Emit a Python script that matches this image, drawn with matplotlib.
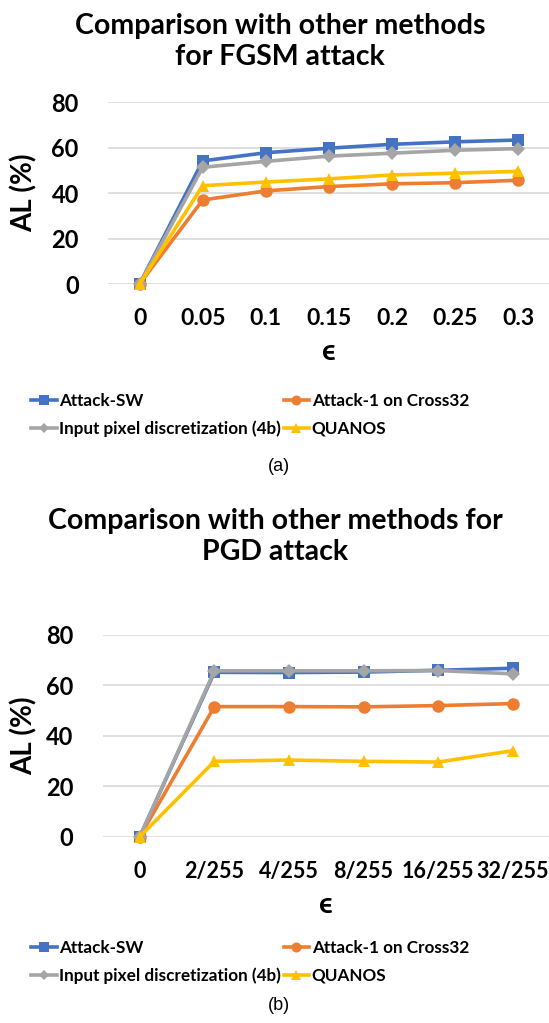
import matplotlib
matplotlib.use("Agg")
import matplotlib.pyplot as plt

# ---------------- data ----------------
series_names = ["Attack-SW", "Attack-1 on Cross32",
                "Input pixel discretization (4b)", "QUANOS"]

fgsm_eps = ["0", "0.05", "0.1", "0.15", "0.2", "0.25", "0.3"]
fgsm_attack_sw = [0, 54.2, 57.8, 59.8, 61.5, 62.6, 63.4]
fgsm_attack1 = [0, 37.0, 41.0, 42.9, 44.1, 44.6, 45.7]
fgsm_input_pixel = [0, 51.4, 54.0, 56.3, 57.6, 58.9, 59.6]
fgsm_quanos = [0, 43.3, 44.9, 46.3, 48.0, 48.8, 49.6]

pgd_eps = ["0", "2/255", "4/255", "8/255", "16/255", "32/255"]
pgd_attack_sw = [0, 65.2, 65.1, 65.3, 66.0, 66.8]
pgd_attack1 = [0, 51.6, 51.6, 51.5, 52.0, 52.8]
pgd_input_pixel = [0, 65.8, 65.8, 65.8, 65.9, 64.6]
pgd_quanos = [0, 29.9, 30.4, 29.9, 29.6, 34.1]

y_ticks = [0, 20, 40, 60, 80]

# ---------------- style ----------------
FONT = ["Lato", "DejaVu Sans"]
colors = ["#4472C4", "#ED7D31", "#A5A5A5", "#FFC000"]
markers = ["s", "o", "D", "^"]
msizes = [8.5, 9, 7, 9]
W, H = 549, 1023

fig = plt.figure(figsize=(W / 100, H / 100), dpi=100)
fig.patch.set_facecolor("white")


def px_box(left, top, right, bottom):
    return [left / W, 1 - bottom / H, (right - left) / W, (bottom - top) / H]


def draw_panel(box, cats, data, ylab_x, xlab_y, xsize):
    ax = fig.add_axes(box)
    x = list(range(len(cats)))
    handles = []
    for vals, c, m, ms, name in zip(data, colors, markers, msizes, series_names):
        h, = ax.plot(x, vals, color=c, marker=m, markersize=ms, lw=2.6,
                     markeredgewidth=0, clip_on=False, label=name, zorder=3)
        handles.append(h)
    ax.set_xlim(-0.5, len(cats) - 0.5)
    ax.set_ylim(0, 80)
    ax.set_yticks(y_ticks)
    ax.set_xticks(x)
    ax.set_xticklabels(cats)
    ax.grid(axis="y", color="#D9D9D9", lw=1.2, zorder=0)
    ax.set_axisbelow(True)
    for s in ax.spines.values():
        s.set_visible(False)
    ax.tick_params(axis="both", length=0)
    ax.tick_params(axis="y", pad=21, labelsize=17)
    ax.tick_params(axis="x", pad=17.5, labelsize=xsize)
    for lab in ax.get_xticklabels() + ax.get_yticklabels():
        lab.set_fontweight("bold")
        lab.set_family(FONT)
    ax.set_ylabel("AL (%)", fontsize=20, fontweight="bold", family=FONT)
    ax.yaxis.label.set_va("center")
    ax.yaxis.set_label_coords(ylab_x, 0.5)
    ax.set_xlabel("ϵ", fontsize=21, fontweight="bold", family=FONT)
    ax.xaxis.label.set_va("center")
    ax.xaxis.set_label_coords(0.5, xlab_y)
    return ax, handles


# ---------------- top panel (FGSM) ----------------
ax1, h1 = draw_panel(px_box(108, 102.3, 550, 284), fgsm_eps,
                     [fgsm_attack_sw, fgsm_attack1, fgsm_input_pixel, fgsm_quanos],
                     (24 - 108) / 442, -(352 - 284) / 181.7, 16.5)
fig.text(280 / W, 1 - 41.5 / H, "Comparison with other methods\nfor FGSM attack",
         ha="center", va="center", fontsize=20.5, fontweight="bold", family=FONT,
         linespacing=1.22)

# ---------------- bottom panel (PGD) ----------------
ax2, h2 = draw_panel(px_box(102.5, 635, 550, 836.7), pgd_eps,
                     [pgd_attack_sw, pgd_attack1, pgd_input_pixel, pgd_quanos],
                     (24 - 102.5) / 447.5, -(905 - 836.7) / 201.7, 15.5)
fig.text(275 / W, 1 - 536.5 / H, "Comparison with other methods for\nPGD attack",
         ha="center", va="center", fontsize=20.5, fontweight="bold", family=FONT,
         linespacing=1.28)


def add_legend(handles, top_px):
    order = [0, 2, 1, 3]
    hs = [handles[i] for i in order]
    ls = [series_names[i] for i in order]
    leg = fig.legend(hs, ls, loc="upper left",
                     bbox_to_anchor=(31 / W, 1 - top_px / H), ncol=2,
                     frameon=False, borderpad=0, borderaxespad=0,
                     handlelength=1.5, handletextpad=0.15, columnspacing=0.15,
                     labelspacing=0.68, markerscale=0.8,
                     prop={"family": FONT, "weight": "bold", "size": 12.3})
    return leg


add_legend(h1, 393)
add_legend(h2, 940)

fig.text(278.5 / W, 1 - 466.5 / H, "(a)", ha="center", va="center",
         fontsize=13, family="Liberation Sans")
fig.text(279 / W, 1 - 1005 / H, "(b)", ha="center", va="center",
         fontsize=13, family="Liberation Sans")

fig.savefig("out.png", dpi=100, facecolor="white")
